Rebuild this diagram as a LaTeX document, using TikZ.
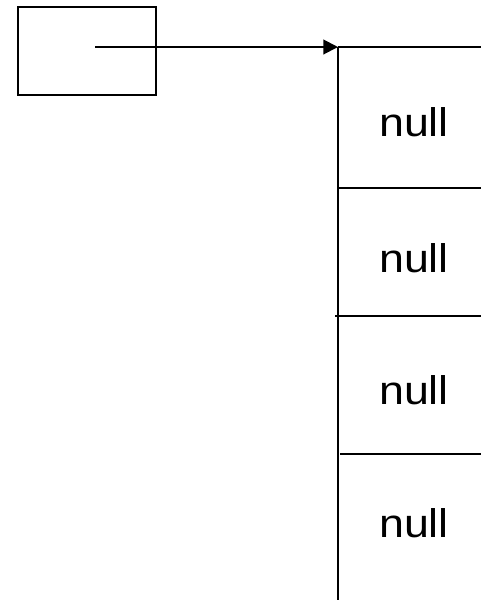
\documentclass[tikz,border=0pt]{standalone}
\usepackage{fontspec}
\setmainfont{Liberation Sans}
\usetikzlibrary{arrows.meta}
\begin{document}
\begin{tikzpicture}[x=0.75pt,y=-0.75pt,
  ln/.style={line width=1.5pt,black},
  nulltxt/.style={anchor=base,inner sep=0pt,font=\fontsize{30}{36}\selectfont,xscale=1.12},
  ptrbox/.style={draw,line width=1.5pt,minimum width=103.5pt,minimum height=66pt,inner sep=0pt}]
\useasboundingbox (0,0) rectangle (481,601);
\node[ptrbox] (ptr) at (86.5,51) {};
\coordinate (start) at (95,47);
\coordinate (top) at (338,47);
\coordinate (topR) at (481,47);
\coordinate (bot) at (338,600);
\draw[ln] (top) -- (topR);
\draw[ln] (top) -- (bot);
\draw[ln] (338,188) -- (481,188);
\draw[ln] (335,316) -- (481,316);
\draw[ln] (340,454) -- (481,454);
\draw[ln,-{Triangle[length=11pt,width=11pt]}] (start) -- (top);
\node[nulltxt] (n1) at (414,136) {null};
\node[nulltxt] (n2) at (414,272) {null};
\node[nulltxt] (n3) at (414,404) {null};
\node[nulltxt] (n4) at (414,537) {null};
\end{tikzpicture}
\end{document}
